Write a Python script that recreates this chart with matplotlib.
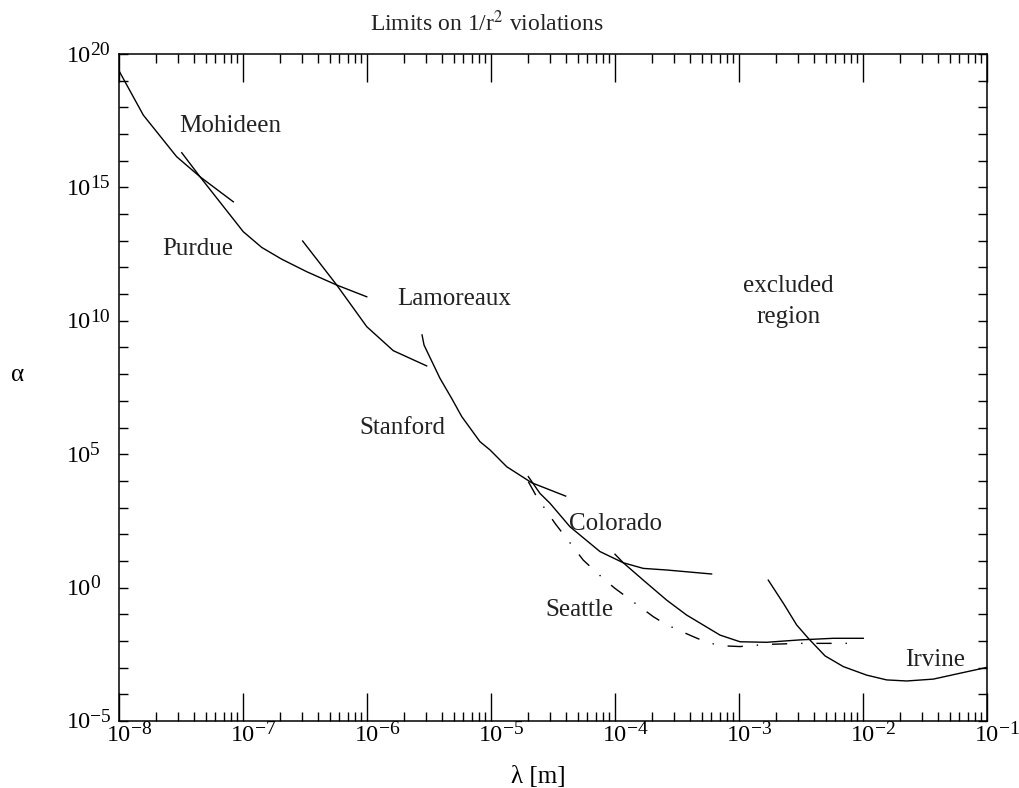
import numpy as np
import matplotlib
matplotlib.use('Agg')
import matplotlib.pyplot as plt
from matplotlib.ticker import FixedLocator, NullFormatter

plt.rcParams['font.family'] = ['Liberation Serif', 'DejaVu Serif']
plt.rcParams['mathtext.fontset'] = 'stix'

# log10(lambda [m]) and log10(alpha)
mohideen_loglam = [-8.0, -7.804, -7.535, -7.347, -7.078]
mohideen_logalpha = [19.37, 17.71, 16.15, 15.40, 14.46]

purdue_loglam = [-7.494, -7.347, -6.998, -6.849, -6.688, -6.486, -6.244, -6.002]
purdue_logalpha = [16.30, 15.40, 13.34, 12.75, 12.31, 11.84, 11.34, 10.90]

lamoreaux_loglam = [-6.519, -6.244, -6.002, -5.788, -5.519]
lamoreaux_logalpha = [12.99, 11.34, 9.78, 8.88, 8.31]

stanford_loglam = [-5.556, -5.540, -5.411, -5.317, -5.236, -5.089, -5.008, -4.873, -4.672, -4.398]
stanford_logalpha = [9.47, 9.09, 7.84, 7.09, 6.41, 5.47, 5.16, 4.53, 3.93, 3.43]

colorado_loglam = [-4.699, -4.605, -4.524, -4.363, -4.121, -3.933, -3.772, -3.584, -3.221]
colorado_logalpha = [4.16, 3.53, 3.16, 2.28, 1.35, 0.93, 0.72, 0.66, 0.51]

seattle_loglam = [-4.0, -3.933, -3.772, -3.583, -3.422, -3.153, -2.992, -2.778, -2.508, -2.240, -1.998]
seattle_logalpha = [1.25, 0.93, 0.28, -0.47, -1.03, -1.78, -2.03, -2.05, -1.96, -1.90, -1.90]

seattle_dd_loglam = [-4.699, -4.632, -4.484, -4.256, -4.081, -4.0, -3.892, -3.691, -3.597,
                     -3.476, -3.368, -3.261, -3.140, -2.992, -2.778, -2.508, -2.240, -2.038]
seattle_dd_logalpha = [3.97, 3.41, 2.41, 1.03, 0.28, -0.03, -0.40, -1.09, -1.36,
                       -1.62, -1.84, -2.05, -2.18, -2.21, -2.13, -2.09, -2.09, -2.09]

irvine_loglam = [-2.764, -2.642, -2.535, -2.441, -2.306, -2.159, -1.971, -1.809, -1.648, -1.433, -1.218, -1.0]
irvine_logalpha = [0.28, -0.59, -1.40, -1.90, -2.56, -2.96, -3.28, -3.46, -3.50, -3.43, -3.21, -2.99]

label_text = ['Mohideen', 'Purdue', 'Lamoreaux', 'excluded', 'region',
              'Stanford', 'Colorado', 'Seattle', 'Irvine']
label_loglam = [-7.102, -7.364, -5.300, -2.605, -2.603, -5.714, -3.993, -4.284, -1.419]
label_logalpha = [17.09, 12.47, 10.59, 11.09, 9.93, 5.757, 2.16, -1.07, -2.94]

x_tick_exp = [-8, -7, -6, -5, -4, -3, -2, -1]
y_tick_exp = [-5, 0, 5, 10, 15, 20]

fig = plt.figure(figsize=(10.19, 7.88), dpi=100)
ax = fig.add_axes([119 / 1019, 1 - 721 / 788, 868 / 1019, 667 / 788])

solid = [(mohideen_loglam, mohideen_logalpha), (purdue_loglam, purdue_logalpha),
         (lamoreaux_loglam, lamoreaux_logalpha), (stanford_loglam, stanford_logalpha),
         (colorado_loglam, colorado_logalpha), (seattle_loglam, seattle_logalpha),
         (irvine_loglam, irvine_logalpha)]
for lx, ly in solid:
    ax.plot(10 ** np.array(lx), 10 ** np.array(ly), color='black', lw=1.0)

ax.plot(10 ** np.array(seattle_dd_loglam), 10 ** np.array(seattle_dd_logalpha),
        color='black', lw=1.0, linestyle=(0, (11, 10, 1, 10)))

for t, lx, ly in zip(label_text, label_loglam, label_logalpha):
    ax.text(10 ** lx, 10 ** ly, t, ha='center', va='baseline', fontsize=18, color='#222222')

ax.set_xscale('log')
ax.set_yscale('log')
ax.set_xlim(1e-8, 1e-1)
ax.set_ylim(1e-5, 1e20)

ax.xaxis.set_major_locator(FixedLocator([10.0 ** k for k in x_tick_exp]))
ax.xaxis.set_minor_locator(FixedLocator([m * 10.0 ** k for k in range(-8, -1) for m in range(2, 10)]))
ax.yaxis.set_major_locator(FixedLocator([10.0 ** k for k in y_tick_exp]))
ax.yaxis.set_minor_locator(FixedLocator([10.0 ** k for k in range(-5, 21)]))
for axis in (ax.xaxis, ax.yaxis):
    axis.set_major_formatter(NullFormatter())
    axis.set_minor_formatter(NullFormatter())

ax.tick_params(axis='both', which='both', direction='in', top=True, right=True,
               width=1.0, color='black')
ax.tick_params(axis='x', which='major', length=20)
ax.tick_params(axis='x', which='minor', length=6.5)
ax.tick_params(axis='y', which='both', length=6.5)
for s in ax.spines.values():
    s.set_linewidth(1.1)

# tick labels in the old TeX look: "10" with a large, slightly raised exponent
base_fs, exp_fs = 17.5, 14
xt = ax.get_xaxis_transform()
yt = ax.get_yaxis_transform()
for k in x_tick_exp:
    ax.annotate('10', xy=(10.0 ** k, 0), xycoords=xt, xytext=(0, -14.6),
                textcoords='offset points', ha='center', va='baseline', fontsize=base_fs)
    ax.annotate(str(k).replace('-', '\u2212'), xy=(10.0 ** k, 0), xycoords=xt,
                xytext=(8.8, -9.6), textcoords='offset points', ha='left',
                va='baseline', fontsize=exp_fs)
for k in y_tick_exp:
    ax.annotate('10', xy=(0, 10.0 ** k), xycoords=yt, xytext=(-37.4, -5.4),
                textcoords='offset points', ha='left', va='baseline', fontsize=base_fs)
    ax.annotate(str(k).replace('-', '\u2212'), xy=(0, 10.0 ** k), xycoords=yt,
                xytext=(-20.8, -0.6), textcoords='offset points', ha='left',
                va='baseline', fontsize=exp_fs)

fig.text(487 / 1019, 1 - 31 / 788, r'Limits on 1/r$^2$ violations', ha='center',
         va='baseline', fontsize=17, color='#222222')
fig.text(538 / 1019, 1 - 783 / 788, 'λ [m]', ha='center', va='baseline', fontsize=18)
fig.text(18 / 1019, 1 - 375 / 788, 'α', ha='center', va='center', fontsize=18)

fig.savefig('out.png', dpi=100)
